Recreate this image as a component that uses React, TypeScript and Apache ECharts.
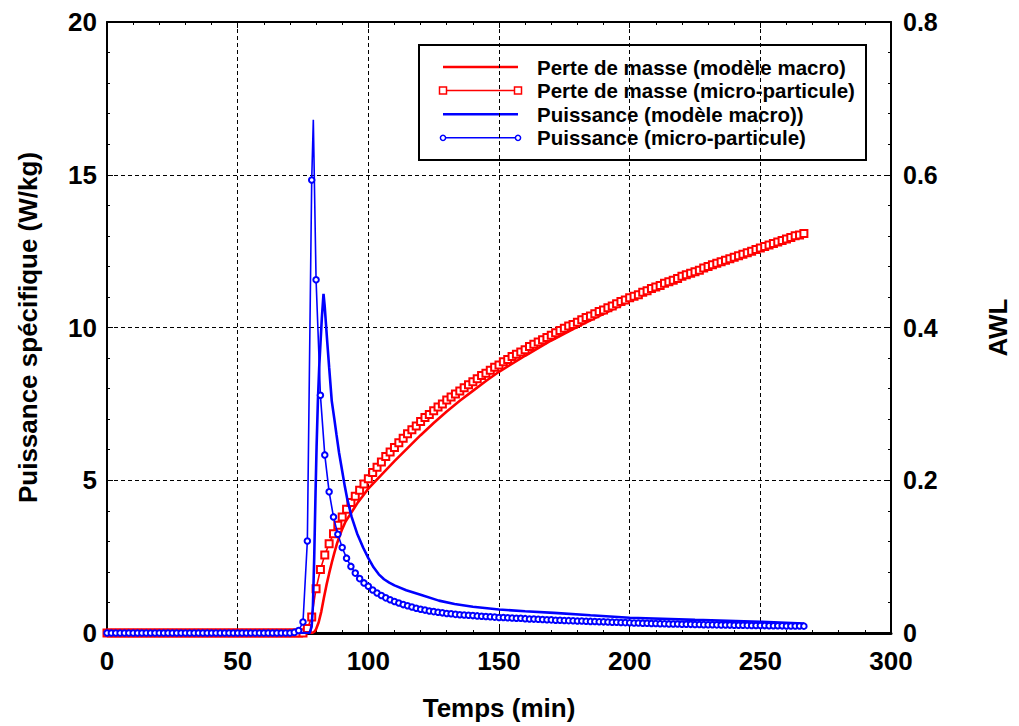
import React, { useEffect, useRef } from "react";
import * as echarts from "echarts";

// Sampling step of the micro-particle model (markers), in minutes
const SAMPLE_STEP_MIN = 100 / 60;

// Puissance (micro-particule), W/kg, one value per marker
const MICRO_POWER = [
  0, 0, 0, 0, 0, 0, 0, 0, 0, 0,
  0, 0, 0, 0, 0, 0, 0, 0, 0, 0,
  0, 0, 0, 0, 0, 0, 0, 0, 0, 0,
  0, 0, 0, 0, 0, 0, 0, 0, 0, 0,
  0, 0, 0, 0.02, 0.08, 0.36, 3.01, 14.83, 11.56, 7.78,
  5.83, 4.62, 3.8, 3.23, 2.8, 2.45, 2.18, 1.96, 1.78, 1.64,
  1.53, 1.41, 1.31, 1.23, 1.15, 1.09, 1.03, 0.98, 0.93, 0.89,
  0.85, 0.81, 0.78, 0.75, 0.72, 0.7, 0.68, 0.66, 0.64, 0.63,
  0.61, 0.6, 0.59, 0.58, 0.57, 0.56, 0.55, 0.54, 0.53, 0.52,
  0.51, 0.505, 0.5, 0.49, 0.485, 0.48, 0.47, 0.46, 0.455, 0.45,
  0.44, 0.435, 0.43, 0.42, 0.415, 0.41, 0.405, 0.4, 0.395, 0.39,
  0.385, 0.38, 0.375, 0.37, 0.365, 0.36, 0.355, 0.35, 0.345, 0.34,
  0.335, 0.33, 0.326, 0.322, 0.318, 0.314, 0.31, 0.306, 0.302, 0.298,
  0.295, 0.292, 0.289, 0.286, 0.283, 0.28, 0.277, 0.274, 0.271, 0.269,
  0.266, 0.264, 0.261, 0.259, 0.257, 0.254, 0.252, 0.25, 0.248, 0.246,
  0.244, 0.242, 0.24, 0.238, 0.236, 0.234, 0.232, 0.23, 0.229, 0.227,
  0.225,
];
// Peak of the micro-particle power line (between two markers): [min, W/kg]
const MICRO_POWER_PEAK = [78.95, 16.8];

// Perte de masse (micro-particule), AWL, one value per marker
const MICRO_AWL = [
  0, 0, 0, 0, 0, 0, 0, 0, 0, 0,
  0, 0, 0, 0, 0, 0, 0, 0, 0, 0,
  0, 0, 0, 0, 0, 0, 0, 0, 0, 0,
  0, 0, 0, 0, 0, 0, 0, 0, 0, 0,
  0, 0, 0, 0, 0, 0, 0.006, 0.021, 0.058, 0.083,
  0.102, 0.117, 0.13, 0.141, 0.152, 0.162, 0.171, 0.179, 0.187, 0.195,
  0.202, 0.21, 0.217, 0.224, 0.231, 0.237, 0.243, 0.249, 0.255, 0.261,
  0.266, 0.271, 0.277, 0.282, 0.286, 0.291, 0.296, 0.3, 0.305, 0.309,
  0.313, 0.317, 0.321, 0.325, 0.329, 0.333, 0.337, 0.34, 0.344, 0.348,
  0.351, 0.355, 0.358, 0.362, 0.365, 0.368, 0.371, 0.375, 0.378, 0.381,
  0.384, 0.387, 0.39, 0.393, 0.396, 0.399, 0.402, 0.404, 0.407, 0.41,
  0.413, 0.415, 0.418, 0.421, 0.423, 0.426, 0.428, 0.431, 0.434, 0.436,
  0.439, 0.441, 0.443, 0.446, 0.448, 0.451, 0.453, 0.455, 0.458, 0.46,
  0.462, 0.464, 0.467, 0.469, 0.471, 0.473, 0.475, 0.478, 0.48, 0.482,
  0.484, 0.486, 0.488, 0.49, 0.492, 0.494, 0.496, 0.498, 0.5, 0.502,
  0.504, 0.506, 0.508, 0.51, 0.512, 0.514, 0.516, 0.518, 0.52, 0.521,
  0.523,
];

// Puissance (modèle macro)
const MACRO_POWER_T = [
  0, 77.5, 78.3, 78.8, 79.3, 79.8, 80.2, 80.7, 81.2, 81.7, 82.2, 82.85,
  83.3, 83.8, 84.3, 85, 86, 87, 87.8, 88.8, 89.8, 91, 91.9, 93.6, 95.7,
  98, 100, 102, 104, 106, 108, 110, 114.5, 120, 127, 133, 140, 150, 160,
  171, 185, 200, 225, 250, 266.67,
];
const MACRO_POWER_V = [
  0, 0, 0.2, 0.9, 2.5, 4.6, 6.1, 7.6, 8.7, 9.5, 10.3, 11.1,
  10.7, 10.1, 9.5, 8.7, 7.6, 7.0, 6.5, 5.9, 5.4, 4.8, 4.4, 3.8, 3.26,
  2.8, 2.45, 2.15, 1.92, 1.76, 1.65, 1.56, 1.4, 1.25, 1.06, 0.95, 0.86, 0.77, 0.71,
  0.66, 0.58, 0.5, 0.43, 0.37, 0.31,
];

// Perte de masse (modèle macro)
const MACRO_AWL_T = [
  0, 78.5, 79.5, 80, 81, 82, 83, 84, 85, 86, 87, 88, 89, 90, 91.3, 93,
  94.5, 96, 97.6, 100, 105, 110, 115, 120, 125, 130, 135, 140, 145, 150,
  160, 170, 180, 190, 200, 210, 220, 230, 240, 250, 260, 266.67,
];
const MACRO_AWL_V = [
  0, 0, 0.002, 0.005, 0.014, 0.028, 0.046, 0.063, 0.078, 0.092, 0.105, 0.117, 0.127, 0.136, 0.146, 0.155,
  0.163, 0.171, 0.178, 0.189, 0.207, 0.225, 0.242, 0.259, 0.275, 0.29, 0.304, 0.317, 0.33, 0.342,
  0.363, 0.383, 0.401, 0.418, 0.435, 0.45, 0.464, 0.477, 0.49, 0.502, 0.514, 0.522,
];

const LEGEND_LABELS = [
  "Perte de masse (modèle macro)",
  "Perte de masse (micro-particule)",
  "Puissance (modèle macro))",
  "Puissance (micro-particule)",
];

const X_NAME = "Temps (min)";
const Y_LEFT_NAME = "Puissance spécifique (W/kg)";
const Y_RIGHT_NAME = "AWL";

const RED = "#ff0000";
const BLUE = "#0000ff";
const FONT = "'Liberation Sans', Arial, Helvetica, sans-serif";

export default function App() {
  const ref = useRef<HTMLDivElement>(null);

  useEffect(() => {
    if (!ref.current) return;
    document.body.style.margin = "0";
    document.body.style.overflow = "hidden";
    document.documentElement.style.overflow = "hidden";
    const chart = echarts.init(ref.current, null, { renderer: "svg", width: 1019, height: 726 });

    const labelStyle = { color: "#000", fontSize: 26, fontWeight: "bold" as const, fontFamily: FONT };
    const nameStyle = { color: "#000", fontSize: 26, fontWeight: "bold" as const, fontFamily: FONT };
    const gridLine = { show: true, lineStyle: { color: "#000", width: 1, type: [4, 3] as any } };

    const microPowerData: any[] = [];
    MICRO_POWER.forEach((v, i) => {
      const t = i * SAMPLE_STEP_MIN;
      if (
        microPowerData.length &&
        microPowerData[microPowerData.length - 1].value[0] < MICRO_POWER_PEAK[0] &&
        t > MICRO_POWER_PEAK[0]
      ) {
        microPowerData.push({ value: MICRO_POWER_PEAK, symbol: "none" });
      }
      microPowerData.push({ value: [t, v] });
    });

    const legendRows = LEGEND_LABELS.map((label, k) => {
      const y = 22 + k * 23.6;
      const color = k < 2 ? RED : BLUE;
      const children: any[] = [
        { type: "line", shape: { x1: 24, y1: y, x2: 99, y2: y }, style: { stroke: color, lineWidth: k % 2 === 0 ? 2.5 : 1.5 } },
        {
          type: "text",
          x: 118,
          y: y,
          style: { text: label, fill: "#000", font: `bold 20.5px ${FONT}`, verticalAlign: "middle", align: "left" },
        },
      ];
      if (k === 1) {
        [24, 99].forEach((cx) =>
          children.push({
            type: "rect",
            shape: { x: cx - 3.5, y: y - 3.5, width: 7, height: 7 },
            style: { fill: "#fff", stroke: color, lineWidth: 1.5 },
          })
        );
      }
      if (k === 3) {
        [24, 99].forEach((cx) =>
          children.push({ type: "circle", shape: { cx, cy: y, r: 2.6 }, style: { fill: "#fff", stroke: color, lineWidth: 1.5 } })
        );
      }
      return { type: "group", children };
    });

    const tickStyle = { show: true, inside: true, length: 6, lineStyle: { color: "#000", width: 1 } };
    const minorStyle = { show: true, splitNumber: 5, length: 3, lineStyle: { color: "#000", width: 1 } };

    const option: any = {
      animation: false,
      backgroundColor: "#fff",
      grid: { left: 107, right: 119, top: 22, bottom: 89, containLabel: false },
      xAxis: [
        {
          type: "value", position: "bottom", min: 0, max: 300, interval: 50,
          axisLine: { show: true, onZero: false, lineStyle: { color: "#000", width: 3 } },
          axisTick: tickStyle, minorTick: minorStyle, splitLine: gridLine,
          axisLabel: { ...labelStyle, margin: 15, lineHeight: 26 },
          name: X_NAME, nameLocation: "middle", nameGap: 62, nameTextStyle: nameStyle,
        },
        {
          type: "value", position: "top", min: 0, max: 300, interval: 50,
          axisLine: { show: true, onZero: false, lineStyle: { color: "#000", width: 2 } },
          axisTick: tickStyle, minorTick: minorStyle, splitLine: { show: false }, axisLabel: { show: false },
        },
      ],
      yAxis: [
        {
          type: "value", position: "left", min: 0, max: 20, interval: 5,
          axisLine: { show: true, onZero: false, lineStyle: { color: "#000", width: 2 } },
          axisTick: tickStyle, minorTick: minorStyle, splitLine: gridLine,
          axisLabel: { ...labelStyle, margin: 10, lineHeight: 22 },
          name: Y_LEFT_NAME, nameLocation: "middle", nameRotate: 90, nameGap: 66, nameTextStyle: nameStyle,
        },
        {
          type: "value", position: "right", min: 0, max: 0.8, interval: 0.2,
          axisLine: { show: true, onZero: false, lineStyle: { color: "#000", width: 2 } },
          axisTick: tickStyle, minorTick: minorStyle, splitLine: { show: false },
          axisLabel: { ...labelStyle, fontSize: 25, margin: 12, lineHeight: 22 },
          name: Y_RIGHT_NAME, nameLocation: "middle", nameRotate: 90, nameGap: 94, nameTextStyle: nameStyle,
        },
      ],
      series: [
        {
          name: LEGEND_LABELS[0], type: "line", xAxisIndex: 0, yAxisIndex: 1,
          data: MACRO_AWL_T.map((t, k) => [t, MACRO_AWL_V[k]]),
          symbol: "none", showSymbol: false, lineStyle: { color: RED, width: 2.6 }, itemStyle: { color: RED }, z: 2,
        },
        {
          name: LEGEND_LABELS[1], type: "line", xAxisIndex: 0, yAxisIndex: 1,
          data: MICRO_AWL.map((v, i) => [i * SAMPLE_STEP_MIN, v]),
          symbol: "emptyRect", symbolSize: 7, showAllSymbol: true,
          lineStyle: { color: RED, width: 1.6 }, itemStyle: { color: RED, borderColor: RED, borderWidth: 1.5 }, z: 3,
        },
        {
          name: LEGEND_LABELS[2], type: "line", xAxisIndex: 0, yAxisIndex: 0,
          data: MACRO_POWER_T.map((t, k) => [t, MACRO_POWER_V[k]]),
          symbol: "none", showSymbol: false, lineStyle: { color: BLUE, width: 2.6 }, itemStyle: { color: BLUE }, z: 4,
        },
        {
          name: LEGEND_LABELS[3], type: "line", xAxisIndex: 0, yAxisIndex: 0,
          data: microPowerData,
          symbol: "emptyCircle", symbolSize: 5.5, showAllSymbol: true,
          lineStyle: { color: BLUE, width: 1.6 }, itemStyle: { color: BLUE, borderColor: BLUE, borderWidth: 1.4 }, z: 5,
        },
      ],
      graphic: [
        {
          type: "group", left: 418, top: 44, z: 100,
          children: [
            { type: "rect", shape: { x: 0, y: 0, width: 447, height: 115 }, style: { fill: "#fff", stroke: "#000", lineWidth: 2 } },
            ...legendRows,
          ],
        },
      ],
    };

    chart.setOption(option);
    return () => chart.dispose();
  }, []);

  return (
    <div ref={ref} style={{ position: "fixed", left: 0, top: 0, width: 1019, height: 726, overflow: "hidden" }} />
  );
}
